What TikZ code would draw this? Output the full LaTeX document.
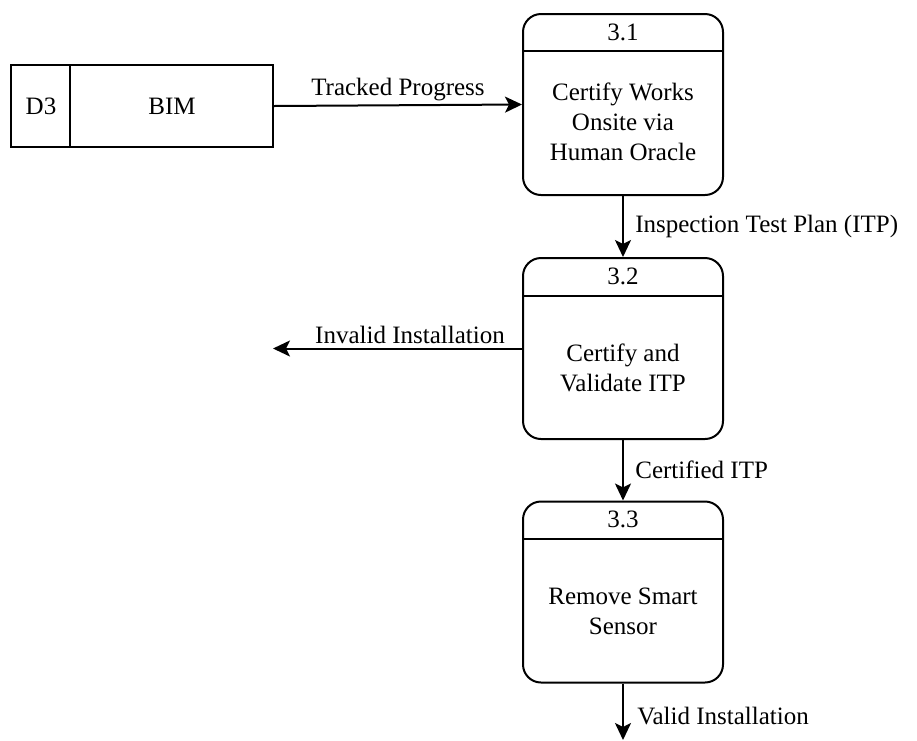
\documentclass[tikz,border=0pt]{standalone}
\usepackage{fontspec}
\setmainfont{Liberation Serif}
\usetikzlibrary{arrows.meta}

\tikzset{
  process/.style={draw, line width=2pt, rounded corners=18pt,
    minimum width=200pt, minimum height=181pt},
  store/.style={draw, line width=2pt, minimum width=262pt, minimum height=82pt},
  flow/.style={line width=2pt, -{Stealth[length=17pt,width=16pt,inset=4pt]}},
}

\begin{document}
\begin{tikzpicture}[x=1pt, y=-1pt, font=\fontsize{25}{30}\selectfont]
\useasboundingbox (0,0) rectangle (917,740);

% data store
\node[store] (d3) at (142,106) {};
\draw[line width=2pt] ([xshift=60pt]d3.north west) -- ([xshift=60pt]d3.south west);
\node (d3id) at (41,106) {D3};
\node (d3name) at (172,106) {BIM};

% processes
\node[process] (p31) at (623,104.5) {};
\draw[line width=2pt] ([yshift=-38pt]p31.north west) -- ([yshift=-38pt]p31.north east);
\node (p31id) at ([yshift=-19pt]p31.north) {3.1};
\node[align=center] (p31txt) at ([yshift=-17pt]p31.center) {Certify Works\\Onsite via\\Human Oracle};

\node[process] (p32) at (623,348.5) {};
\draw[line width=2pt] ([yshift=-39pt]p32.north west) -- ([yshift=-39pt]p32.north east);
\node (p32id) at ([yshift=-19pt]p32.north) {3.2};
\node[align=center] (p32txt) at ([yshift=-19pt]p32.center) {Certify and\\Validate ITP};

\node[process] (p33) at (623,592) {};
\draw[line width=2pt] ([yshift=-38pt]p33.north west) -- ([yshift=-38pt]p33.north east);
\node (p33id) at ([yshift=-19pt]p33.north) {3.3};
\node[align=center] (p33txt) at ([yshift=-19pt]p33.center) {Remove Smart\\Sensor};

% free ends
\coordinate (inv) at (273,348.5);
\coordinate (out) at (623,740);

% flows
\draw[flow] (d3.east) -- node[above] {Tracked Progress} (p31.west);
\draw[flow] (p31.south) -- node[right, xshift=8pt] {Inspection Test Plan (ITP)} (p32.north);
\draw[flow] (p32.west) -- node[above, pos=0.45] {Invalid Installation} (inv);
\draw[flow] (p32.south) -- node[right, xshift=8pt] {Certified ITP} (p33.north);
\draw[flow] (p33.south) -- node[right, xshift=10pt, yshift=-4pt] {Valid Installation} (out);
\end{tikzpicture}
\end{document}
